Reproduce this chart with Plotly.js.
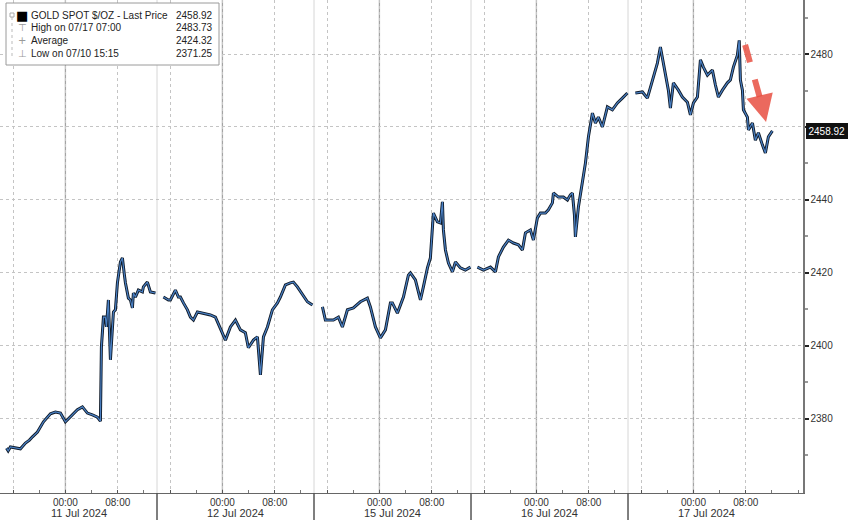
<!DOCTYPE html>
<html><head><meta charset="utf-8">
<script src="https://cdn.plot.ly/plotly-3.0.1.min.js"></script>
<style>html,body{margin:0;padding:0;background:#fff}#chart{width:848px;height:520px}</style>
</head><body><div id="chart"></div>
<script>
// x = trading hours relative to 11 Jul 2024 00:00 (weekend removed), null = session break
const hours = [
 -9.0,-8.75,-8.41,-7.64,-6.88,-6.11,-5.50,-5.04,-4.28,-3.36,-2.75,-2.29,-1.53,-0.76,0,0.76,1.38,1.83,2.60,3.36,
 4.13,4.89,5.35,5.50,5.81,6.11,6.27,6.57,6.88,7.34,7.64,7.95,8.41,8.71,9.02,9.17,9.63,9.94,10.24,10.39,
 10.70,11.16,11.77,11.92,12.53,12.99,13.76, null,
 14.98,15.74,16.05,16.51,16.81,17.27,17.58,18.04,18.65,19.11,19.57,20.18,21.09,22.16,22.93,23.69,24.46,25.22,25.99,26.75,
 27.51,27.97,28.74,29.35,29.50,29.81,30.27,30.88,31.64,32.41,32.86,33.63,34.39,34.85,35.46,36.23,36.99,37.76, null,
 39.29,39.74,40.51,40.97,41.73,42.34,43.11,44.02,45.09,46.16,46.62,47.39,48.15,48.92,49.68,49.98,50.75,51.67,52.43,52.74,
 53.50,54.27,54.72,55.34,55.79,56.10,56.25,56.86,57.32,57.63,57.78,58.09,58.55,59.16,59.62,60.38,61.14,61.91, null,
 62.98,63.90,64.97,65.73,66.19,66.95,67.72,68.48,69.25,69.86,70.32,71.08,71.54,72.15,72.61,73.37,73.83,74.44,74.60,75.36,
 76.12,76.74,77.19,77.50,77.81,77.96,78.42,79.03,79.49,79.95,80.56,81.02,81.47,82.09,82.85,83.61,84.38,85.14,85.91, null,
 87.13,88.20,88.96,89.73,90.49,90.95,91.41,92.17,92.48,92.94,93.70,94.31,95.08,95.54,96.00,96.61,97.07,97.52,98.14,98.90,
 99.36,99.82,100.43,101.19,101.65,102.11,102.72,103.00,103.18,103.49,103.64,104.25,104.41,105.02,105.47,105.93,106.54,107.00,107.46,108.07
];
const price = [
 2372.0,2371.25,2372.3,2372.1,2371.8,2373.4,2374.2,2375.1,2376.4,2379.2,2380.3,2381.4,2381.9,2381.6,2379.2,2380.5,2381.6,2382.5,2383.3,2381.6,
 2381.1,2380.5,2379.4,2399.7,2407.9,2407.9,2405.2,2412.6,2396.2,2409.3,2409.9,2417.3,2423.0,2424.1,2419.4,2417.3,2413.1,2412.6,2410.4,2414.5,
 2413.4,2415.3,2414.8,2416.2,2417.5,2414.8,2414.5, null,
 2413.4,2412.6,2412.6,2414.0,2415.3,2413.4,2413.4,2411.8,2409.9,2407.9,2407.1,2409.3,2409.0,2408.5,2407.9,2404.9,2401.6,2405.2,2407.1,2404.4,
 2403.6,2399.5,2401.6,2402.5,2399.7,2392.1,2402.5,2405.2,2409.9,2411.8,2413.4,2416.7,2417.3,2417.5,2416.2,2414.0,2412.1,2411.2, null,
 2410.7,2407.1,2407.1,2407.1,2407.9,2405.2,2409.9,2410.4,2412.1,2413.1,2410.7,2405.2,2402.2,2404.4,2411.8,2411.8,2409.0,2413.4,2419.4,2420.0,
 2418.1,2412.6,2416.2,2421.4,2424.1,2432.6,2436.4,2434.0,2433.7,2439.5,2431.8,2426.3,2422.7,2420.3,2423.0,2421.4,2420.8,2421.6, null,
 2421.6,2420.8,2421.6,2420.3,2424.4,2427.1,2429.0,2428.2,2427.7,2426.3,2431.0,2431.8,2429.0,2435.1,2436.4,2436.4,2437.3,2439.2,2441.9,2440.8,
 2440.8,2440.0,2441.4,2441.9,2435.9,2429.9,2438.1,2444.7,2450.1,2457.3,2463.8,2461.1,2462.7,2460.0,2465.5,2464.7,2466.6,2467.9,2469.3, null,
 2469.3,2469.6,2467.9,2472.9,2477.5,2481.9,2477.5,2470.1,2465.2,2472.1,2470.1,2468.2,2466.8,2463.3,2466.6,2468.2,2478.4,2476.4,2474.2,2475.6,
 2471.5,2468.2,2470.1,2472.1,2472.9,2476.4,2479.7,2483.73,2472.9,2470.1,2464.7,2462.7,2459.2,2461.1,2456.4,2458.4,2455.1,2452.9,2457.3,2458.92
];
const timeTickVals = [-8,0,8,16,24,32,40,48,56,64,72,80,88,96,104];
const timeTickText = ["","00:00","08:00","","00:00","08:00","","00:00","08:00","","00:00","08:00","","00:00","08:00"];
const midnightHours = [0,24,48,72,96];
const sessionBreakHours = [14,38,62,86];
const dateLabels = ["11 Jul 2024","12 Jul 2024","15 Jul 2024","16 Jul 2024","17 Jul 2024"];
const dateLabelHours = [2,26,50,74,98];
const priceTicks = [2380,2400,2420,2440,2460,2480];
const priceTickText = ["2380","2400","2420","2440","","2480"]; // 2460 label sits under the last-price tag
const legendNames = ["GOLD SPOT $/OZ - Last Price","High on 07/17 07:00","Average","Low on 07/10 15:15"];
const legendValues = ["2458.92","2483.73","2424.32","2371.25"];
const legendIcons = ["■","⊤","+","⊥"];
const lastPrice = 2458.92;
const arrowTail = [103.9, 2482.5];
const arrowMid = [106.5, 2465.8];
const arrowTip = [107.1, 2461.4];

const PW = 803, PH = 493;
const px = v => v / PW, py = v => 1 - v / PH;

const shapes = [];
sessionBreakHours.forEach(h => {
  shapes.push({type:'line', xref:'x', yref:'paper', x0:h, x1:h, y0:0, y1:1, layer:'below', line:{color:'#d6d6d6', width:1}});
  shapes.push({type:'line', xref:'x', yref:'paper', x0:h, x1:h, y0:-27/PH, y1:0, line:{color:'#555', width:1.5}});
});
midnightHours.forEach(h => {
  shapes.push({type:'line', xref:'x', yref:'paper', x0:h, x1:h, y0:0, y1:1, layer:'below', line:{color:'#a4a4a4', width:1.3}});
});
// legend box
shapes.push({type:'rect', xref:'paper', yref:'paper', x0:px(6), x1:px(219), y0:py(65), y1:py(3), layer:'above', fillcolor:'#fff', line:{color:'#9a9a9a', width:1}});
shapes.push({type:'line', xref:'paper', yref:'paper', x0:px(12), x1:px(12), y0:py(56), y1:py(15), layer:'above', line:{color:'#bbb', width:1, dash:'dot'}});
shapes.push({type:'rect', xref:'paper', yref:'paper', x0:px(10), x1:px(14), y0:py(17), y1:py(13), layer:'above', fillcolor:'#fff', line:{color:'#aaa', width:1}});
// red dashed arrow shaft
shapes.push({type:'line', xref:'x', yref:'y', x0:arrowTail[0], y0:arrowTail[1], x1:arrowMid[0], y1:arrowMid[1], layer:'above', line:{color:'rgba(232,80,66,0.85)', width:6, dash:'dash'}});

const annotations = [];
const rowY = [15, 28, 41, 54];
legendNames.forEach((n, i) => {
  annotations.push({xref:'paper', yref:'paper', x:px(29), y:py(rowY[i]), xanchor:'left', yanchor:'middle', text:n, showarrow:false, font:{family:'Liberation Sans, Arial, sans-serif', size:10, color:'#222'}});
  annotations.push({xref:'paper', yref:'paper', x:px(215), y:py(rowY[i]), xanchor:'right', yanchor:'middle', text:legendValues[i], showarrow:false, font:{family:'Liberation Sans, Arial, sans-serif', size:10, color:'#222'}});
  annotations.push({xref:'paper', yref:'paper', x:px(22), y:py(rowY[i]), xanchor:'center', yanchor:'middle', text:legendIcons[i], showarrow:false, font:{family:'DejaVu Sans, sans-serif', size:i===0?13:10, color:i===0?'#000':'#999'}});
});
dateLabels.forEach((d, i) => {
  annotations.push({xref:'x', yref:'paper', x:dateLabelHours[i], y:0, yanchor:'middle', yshift:-20, text:d, showarrow:false, font:{family:'Liberation Sans, Arial, sans-serif', size:11, color:'#333'}});
});
annotations.push({xref:'paper', yref:'y', x:1, y:lastPrice, xanchor:'left', xshift:3, text:String(lastPrice), showarrow:false,
  bgcolor:'#111', bordercolor:'#111', borderpad:1.5, font:{family:'Liberation Sans, Arial, sans-serif', size:10, color:'#fff'}});
annotations.push({xref:'x', yref:'y', x:arrowTip[0], y:arrowTip[1], axref:'x', ayref:'y', ax:arrowMid[0], ay:arrowMid[1], text:'', showarrow:true,
  arrowhead:2, arrowsize:0.9, arrowwidth:6, arrowcolor:'rgba(232,80,66,0.85)', standoff:0, startstandoff:0});

const traces = [
  {x:hours, y:price, type:'scatter', mode:'lines', line:{color:'#0f1a28', width:3}, connectgaps:false, hoverinfo:'skip'},
  {x:hours, y:price, type:'scatter', mode:'lines', line:{color:'#4a80c4', width:1.2}, connectgaps:false, hoverinfo:'skip'}
];

const layout = {
  width:848, height:520, margin:{l:0, r:45, t:0, b:27},
  paper_bgcolor:'#fff', plot_bgcolor:'#fff', showlegend:false, hovermode:false,
  font:{family:'Liberation Sans, Arial, sans-serif', size:10, color:'#333'},
  xaxis:{range:[-10, 112.75], tickmode:'array', tickvals:timeTickVals, ticktext:timeTickText,
    ticks:'inside', ticklen:3, tickcolor:'#555', showline:true, linecolor:'#666', linewidth:1,
    showgrid:true, gridcolor:'#c4c4c4', griddash:'dot', gridwidth:1, zeroline:false,
    tickfont:{size:10, color:'#333'},
    minor:{tickmode:'linear', tick0:0, dtick:4, ticks:'inside', ticklen:3, tickcolor:'#777', showgrid:false}},
  yaxis:{side:'right', range:[2359.7, 2494.8], tickmode:'array', tickvals:priceTicks, ticktext:priceTickText,
    ticks:'outside', ticklen:4, tickwidth:2, tickcolor:'#222', showline:true, linecolor:'#777', linewidth:1.5,
    showgrid:true, gridcolor:'#c4c4c4', griddash:'dot', gridwidth:1, zeroline:false,
    tickfont:{size:10, color:'#333'},
    minor:{tickmode:'linear', tick0:2370, dtick:20, ticks:'outside', ticklen:3, tickcolor:'#999', showgrid:false}},
  shapes:shapes, annotations:annotations
};
Plotly.newPlot('chart', traces, layout, {staticPlot:true, displayModeBar:false});
</script></body></html>
